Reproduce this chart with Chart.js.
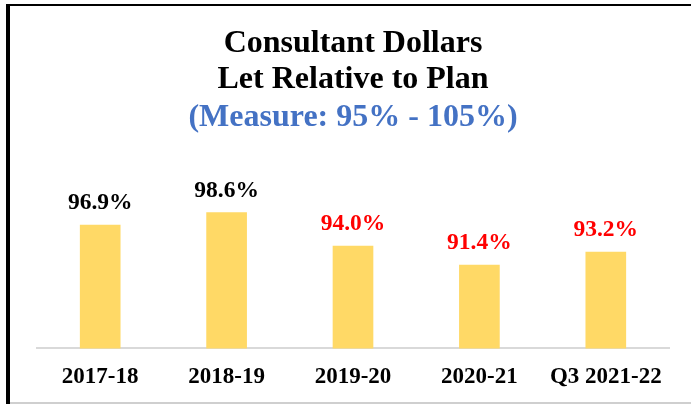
<!DOCTYPE html>
<html>
<head>
<meta charset="utf-8">
<script src="https://cdn.jsdelivr.net/npm/chart.js@4/dist/chart.umd.min.js"></script>
<style>
  html, body { margin: 0; padding: 0; background: #ffffff; }
  #wrap { position: relative; width: 691px; height: 404px; overflow: hidden; background: #fff; }
  #c { position: absolute; left: 0; top: 0; }
  .ln { position: absolute; }
</style>
</head>
<body>
<div id="wrap">
  <canvas id="c" width="691" height="404"></canvas>
  <div class="ln" style="left:6px;top:4px;width:685px;height:2px;background:#000;"></div>
  <div class="ln" style="left:6px;top:4px;width:4px;height:400px;background:#000;"></div>
  <div class="ln" style="left:10px;top:402px;width:681px;height:2px;background:#cfcfcf;"></div>
</div>
<script>
// ---- data ----
const categories = ["2017-18", "2018-19", "2019-20", "2020-21", "Q3 2021-22"];
const values = [96.9, 98.6, 94.0, 91.4, 93.2];
const measureLow = 95;   // measure range 95% - 105%
const titleLines = ["Consultant Dollars", "Let Relative to Plan"];
const subtitleText = "(Measure: 95% - 105%)";

const serif = "'Liberation Serif', 'Times New Roman', Times, serif";

const valueLabels = {
  id: 'valueLabels',
  afterDatasetsDraw(chart) {
    const ctx = chart.ctx;
    const meta = chart.getDatasetMeta(0);
    ctx.save();
    ctx.font = "bold 23.5px " + serif;
    ctx.textAlign = 'center';
    ctx.textBaseline = 'alphabetic';
    meta.data.forEach((bar, i) => {
      const v = values[i];
      ctx.fillStyle = v < measureLow ? '#FF0000' : '#000000';
      ctx.fillText(v.toFixed(1) + '%', bar.x, bar.y - 16);
    });
    ctx.restore();
  }
};

new Chart(document.getElementById('c'), {
  type: 'bar',
  data: {
    labels: categories,
    datasets: [{
      data: values,
      backgroundColor: '#FFD966',
      borderWidth: 0,
      barThickness: 40
    }]
  },
  options: {
    responsive: false,
    animation: false,
    devicePixelRatio: 1,
    layout: { padding: { left: 37, right: 22, top: 0, bottom: -2 } },
    plugins: {
      legend: { display: false },
      tooltip: { enabled: false },
      title: {
        display: true,
        text: titleLines,
        color: '#000000',
        font: { family: serif, size: 32, weight: 'bold', lineHeight: 1.15 },
        padding: { top: 25, bottom: 0 }
      },
      subtitle: {
        display: true,
        text: subtitleText,
        color: '#4472C4',
        font: { family: serif, size: 32, weight: 'bold', lineHeight: 1.15 },
        padding: { top: 1, bottom: 66 }
      }
    },
    scales: {
      x: {
        offset: true,
        grid: { display: false, drawTicks: false },
        border: { display: true, color: '#D9D9D9', width: 2 },
        ticks: {
          color: '#000000',
          padding: 15,
          font: { family: serif, size: 23, weight: 'bold', lineHeight: 1.2 }
        }
      },
      y: {
        display: false,
        min: 80,
        max: 100
      }
    }
  },
  plugins: [valueLabels]
});
</script>
</body>
</html>
